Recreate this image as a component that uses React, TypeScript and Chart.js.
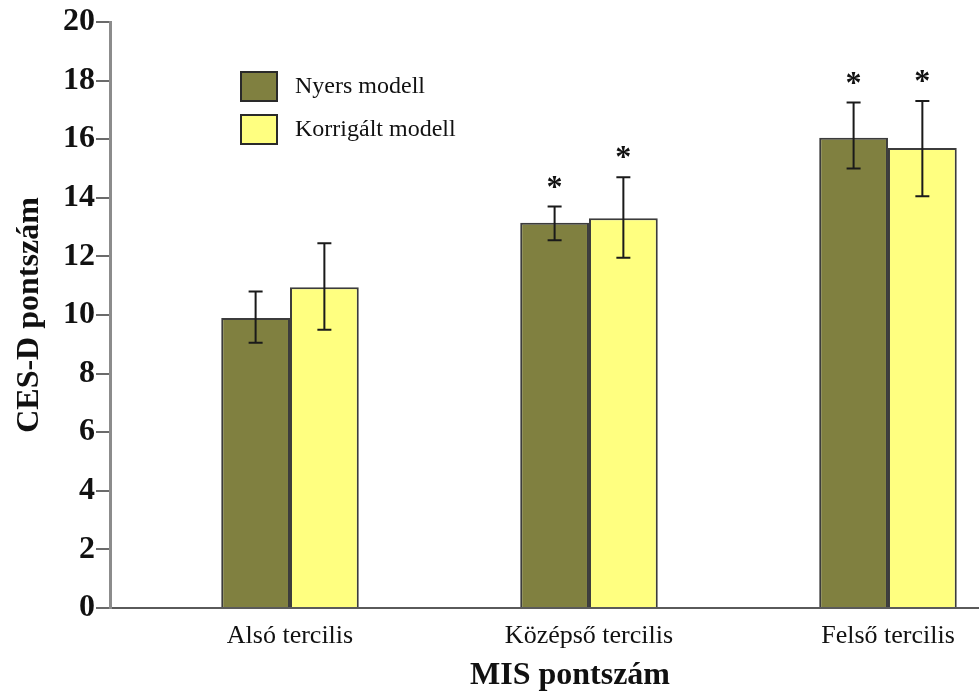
import React, { useEffect, useRef } from 'react';
import { Chart, registerables } from 'chart.js';

Chart.register(...registerables);

const categories = ['Alsó tercilis', 'Középső tercilis', 'Felső tercilis'];
const categoryPositions = [1, 2, 3];
const seriesNames = ['Nyers modell', 'Korrigált modell'];
const nyersValues = [9.9, 13.15, 16.05];
const nyersLow = [9.05, 12.55, 15.0];
const nyersHigh = [10.8, 13.7, 17.25];
const nyersSignificant = [false, true, true];
const korrigaltValues = [10.95, 13.3, 15.7];
const korrigaltLow = [9.5, 11.95, 14.05];
const korrigaltHigh = [12.45, 14.7, 17.3];
const korrigaltSignificant = [false, true, true];
const yMin = 0;
const yMax = 20;
const yStep = 2;
const xTitle = 'MIS pontszám';
const yTitle = 'CES-D pontszám';

const FONT = "'Liberation Serif', 'Times New Roman', serif";

const errorBarPlugin = {
  id: 'errorBars',
  afterDatasetsDraw(chart: any) {
    const ctx = chart.ctx;
    const yScale = chart.scales.y;
    chart.data.datasets.forEach((ds: any, di: number) => {
      const meta = chart.getDatasetMeta(di);
      meta.data.forEach((bar: any, i: number) => {
        const x = bar.x;
        const top = yScale.getPixelForValue(ds.errHigh[i]);
        const bot = yScale.getPixelForValue(ds.errLow[i]);
        ctx.save();
        ctx.strokeStyle = '#1a1a1a';
        ctx.lineWidth = 2;
        ctx.beginPath();
        ctx.moveTo(x, top);
        ctx.lineTo(x, bot);
        ctx.moveTo(x - 7, top);
        ctx.lineTo(x + 7, top);
        ctx.moveTo(x - 7, bot);
        ctx.lineTo(x + 7, bot);
        ctx.stroke();
        if (ds.significant[i]) {
          ctx.fillStyle = '#111';
          ctx.font = `bold 32px ${FONT}`;
          ctx.textAlign = 'center';
          ctx.textBaseline = 'alphabetic';
          ctx.fillText('*', x, top - 10);
        }
        ctx.restore();
      });
    });
  },
};

const legendPlugin = {
  id: 'insideLegend',
  afterDraw(chart: any) {
    const ctx = chart.ctx;
    const area = chart.chartArea;
    const left = area.left + 131;
    const top = area.top + 50;
    const boxW = 36;
    const boxH = 29;
    const rowGap = 43;
    chart.data.datasets.forEach((ds: any, i: number) => {
      const y = top + i * rowGap;
      ctx.save();
      ctx.fillStyle = ds.backgroundColor;
      ctx.fillRect(left, y, boxW, boxH);
      ctx.strokeStyle = '#2a2a2a';
      ctx.lineWidth = 2;
      ctx.strokeRect(left, y, boxW, boxH);
      ctx.fillStyle = '#111';
      ctx.font = `24px ${FONT}`;
      ctx.textAlign = 'left';
      ctx.textBaseline = 'middle';
      ctx.fillText(ds.label, left + 54, y + boxH / 2);
      ctx.restore();
    });
  },
};

export default function App() {
  const canvasRef = useRef<HTMLCanvasElement | null>(null);

  useEffect(() => {
    document.body.style.margin = '0';
    document.body.style.overflow = 'hidden';
    const canvas = canvasRef.current;
    if (!canvas) return;
    const chart = new Chart(canvas, {
      type: 'bar',
      data: {
        datasets: [
          {
            label: seriesNames[0],
            data: categoryPositions.map((x, i) => ({ x, y: nyersValues[i] })),
            backgroundColor: '#808040',
            borderColor: '#3c3c3c',
            borderWidth: 2,
            errLow: nyersLow,
            errHigh: nyersHigh,
            significant: nyersSignificant,
          } as any,
          {
            label: seriesNames[1],
            data: categoryPositions.map((x, i) => ({ x, y: korrigaltValues[i] })),
            backgroundColor: '#ffff80',
            borderColor: '#3c3c3c',
            borderWidth: 2,
            errLow: korrigaltLow,
            errHigh: korrigaltHigh,
            significant: korrigaltSignificant,
          } as any,
        ],
      },
      options: {
        animation: false,
        responsive: false,
        maintainAspectRatio: false,
        devicePixelRatio: 1,
        layout: { padding: { top: 22, left: 0, right: 0, bottom: 0 } },
        datasets: { bar: { barPercentage: 1, categoryPercentage: 0.46 } } as any,
        plugins: {
          legend: { display: false },
          tooltip: { enabled: false },
        },
        scales: {
          x: {
            type: 'linear',
            min: 0.398,
            max: 3.475,
            offset: false,
            afterBuildTicks: (s: any) => {
              s.ticks = categoryPositions.map((v) => ({ value: v }));
            },
            afterFit: (s: any) => {
              s.height = 84;
            },
            ticks: {
              callback: (v: any) => {
                const idx = categoryPositions.indexOf(Number(v));
                return idx >= 0 ? categories[idx] : '';
              },
              font: { family: FONT, size: 26 },
              color: '#111',
              padding: 13,
              maxRotation: 0,
              autoSkip: false,
            },
            grid: { display: false, drawTicks: false, tickLength: 0 },
            border: { display: true, color: '#5a5a5a', width: 2 },
            title: {
              display: true,
              text: xTitle,
              font: { family: FONT, size: 32, weight: 'bold', lineHeight: 1 },
              color: '#111',
              padding: { top: 0, bottom: 0 },
            },
          } as any,
          y: {
            min: yMin,
            max: yMax,
            afterFit: (s: any) => {
              s.width = 110;
            },
            ticks: {
              stepSize: yStep,
              font: { family: FONT, size: 32, weight: 'bold' },
              color: '#111',
              padding: 1,
            },
            grid: {
              drawOnChartArea: false,
              drawTicks: true,
              tickLength: 14,
              color: '#6a6a6a',
              lineWidth: 2,
            },
            border: { display: true, color: '#8c8c8c', width: 3 },
            title: {
              display: true,
              text: yTitle,
              font: { family: FONT, size: 32, weight: 'bold', lineHeight: 1 },
              color: '#111',
              padding: { top: 14, bottom: 0 },
            },
          } as any,
        },
      },
      plugins: [errorBarPlugin, legendPlugin],
    });
    return () => chart.destroy();
  }, []);

  return (
    <div style={{ width: 979, height: 692, overflow: 'hidden', position: 'relative', background: '#fff' }}>
      <canvas ref={canvasRef} width={1030} height={692} style={{ display: 'block', width: 1030, height: 692 }} />
    </div>
  );
}
